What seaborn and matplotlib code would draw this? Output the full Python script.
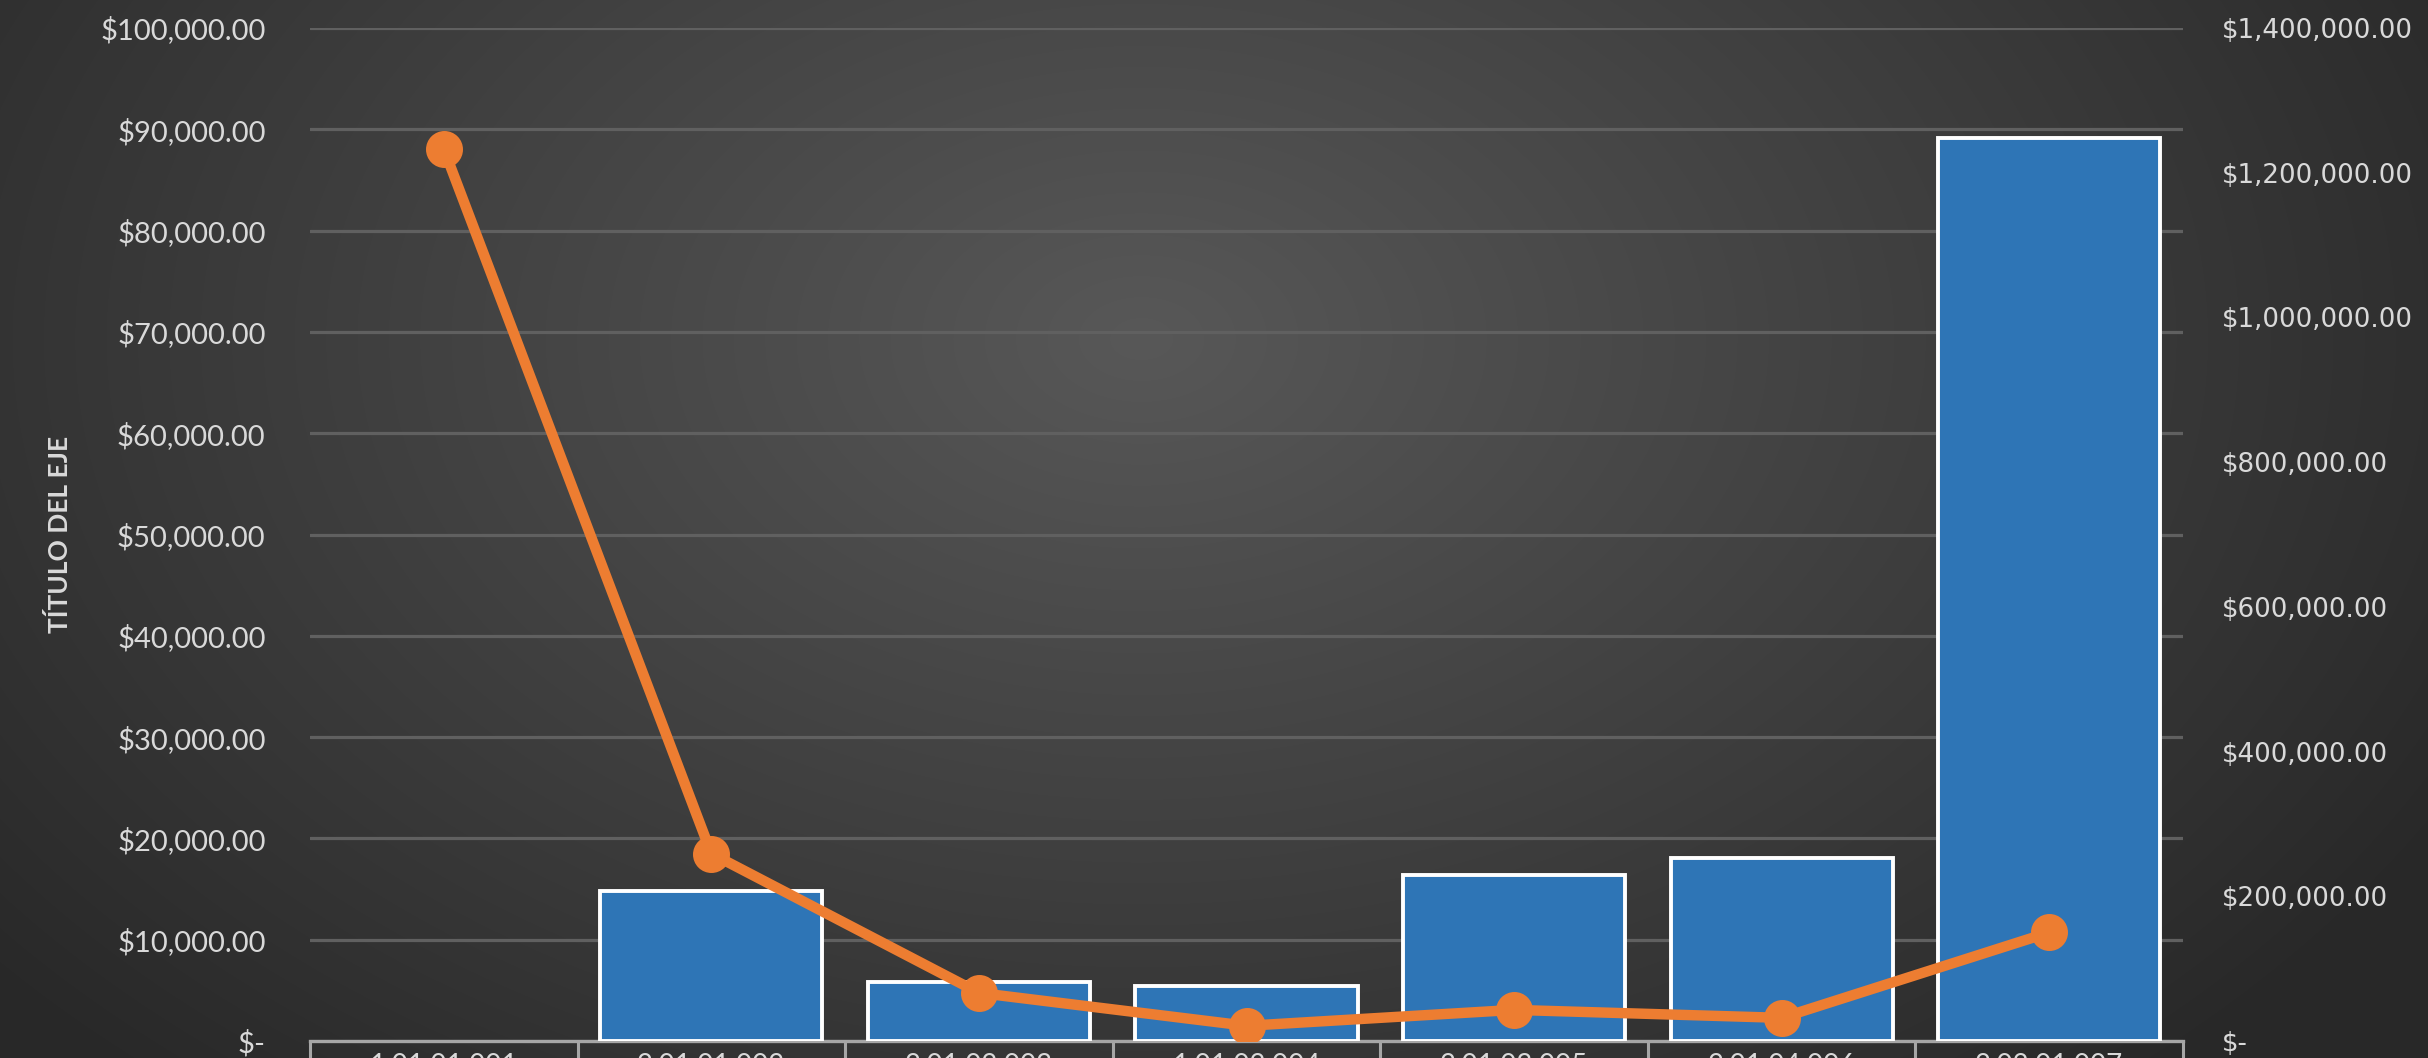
import numpy as np
import matplotlib
matplotlib.use("Agg")
import matplotlib.pyplot as plt
import seaborn as sns
import pandas as pd
from matplotlib.ticker import FuncFormatter, FixedLocator

# ---- data ----
categories = ["1.01.01.001", "2.01.01.002", "2.01.02.003", "1.01.02.004",
              "2.01.03.005", "2.01.04.006", "2.02.01.007"]
bar_values = [np.nan, 14800, 5800, 5400, 16400, 18100, 89100]
line_values = [1233000, 259000, 66500, 21000, 43000, 32000, 150000]
left_ticks = [0, 10000, 20000, 30000, 40000, 50000, 60000, 70000, 80000, 90000, 100000]
right_ticks = [0, 200000, 400000, 600000, 800000, 1000000, 1200000, 1400000]
y_title = "TÍTULO DEL EJE"

df = pd.DataFrame({"cat": categories, "bar": bar_values, "line": line_values})

sns.set_theme(style="dark")
plt.rcParams["font.family"] = ["Lato", "DejaVu Sans"]

W, H, DPI = 2428, 1058, 100
fig = plt.figure(figsize=(W / DPI, H / DPI), dpi=DPI)

# radial gradient background
bg = fig.add_axes([0, 0, 1, 1], zorder=-10)
yy, xx = np.mgrid[0:H, 0:W]
cx, cy = 0.47 * W, 0.32 * H
r = np.sqrt(((xx - cx) / (0.62 * W)) ** 2 + ((yy - cy) / (0.95 * H)) ** 2)
r = np.clip(r, 0, 1)
inner = np.array([0x58, 0x58, 0x58]) / 255
outer = np.array([0x28, 0x28, 0x28]) / 255
img = inner[None, None, :] * (1 - r[..., None]) + outer[None, None, :] * r[..., None]
bg.imshow(img, aspect="auto", extent=[0, 1, 0, 1], origin="upper")
bg.axis("off")

ax = fig.add_axes([310 / W, 1 - 1041 / H, (2183 - 310) / W, (1041 - 28) / H])
ax.set_facecolor("none")
ax2 = ax.twinx()
ax2.set_facecolor("none")

sns.barplot(data=df, x="cat", y="bar", order=categories, ax=ax,
            color="#2E75B6", saturation=1, width=0.83,
            edgecolor="white", linewidth=2.8, zorder=3)

sns.pointplot(data=df, x="cat", y="line", order=categories, ax=ax2,
              color="#ED7D31", markers="o", markersize=21, linewidth=7.5)

ax.set_ylim(0, 100000)
ax2.set_ylim(0, 1400000)
ax.set_xlim(-0.5, len(categories) - 0.5)
ax2.set_xlim(-0.5, len(categories) - 0.5)

def money(v, pos=None):
    if v == 0:
        return "$-"
    return "${:,.2f}".format(v)

ax.yaxis.set_major_locator(FixedLocator(left_ticks))
ax.yaxis.set_major_formatter(FuncFormatter(money))
ax2.yaxis.set_major_locator(FixedLocator(right_ticks))
ax2.yaxis.set_major_formatter(FuncFormatter(money))

ax.grid(axis="y", color="#606060", linewidth=2.3, zorder=0)
ax.grid(axis="x", visible=False)
ax2.grid(False)
ax.set_axisbelow(True)

ax.tick_params(axis="y", length=0, pad=32, labelsize=21, labelcolor="#d9d9d9")
ax2.tick_params(axis="y", length=0, pad=28, labelsize=18.8, labelcolor="#d9d9d9")
for lab in ax2.get_yticklabels():
    lab.set_fontfamily(["DejaVu Sans"])

# category axis
ax.set_xticks(range(len(categories)))
ax.set_xticklabels(categories)
ax.tick_params(axis="x", which="major", bottom=False, length=0, pad=9,
               labelsize=20, labelcolor="#d9d9d9")
ax.set_xticks(np.arange(-0.5, len(categories)), minor=True)
ax.tick_params(axis="x", which="minor", bottom=True, length=30, width=2.2,
               color="#a6a6a6", direction="out")
ax2.tick_params(axis="x", length=0)

for a in (ax, ax2):
    for s in a.spines.values():
        s.set_visible(False)
ax.spines["bottom"].set_visible(True)
ax.spines["bottom"].set_color("#a6a6a6")
ax.spines["bottom"].set_linewidth(2.4)

ax.set_xlabel("")
ax2.set_xlabel("")
ax2.set_ylabel("")
ax.set_ylabel(y_title, fontsize=19, fontweight="bold", color="#d9d9d9")
ax.yaxis.set_label_coords(-0.127, 0.5)

fig.savefig("out.png", dpi=DPI)
